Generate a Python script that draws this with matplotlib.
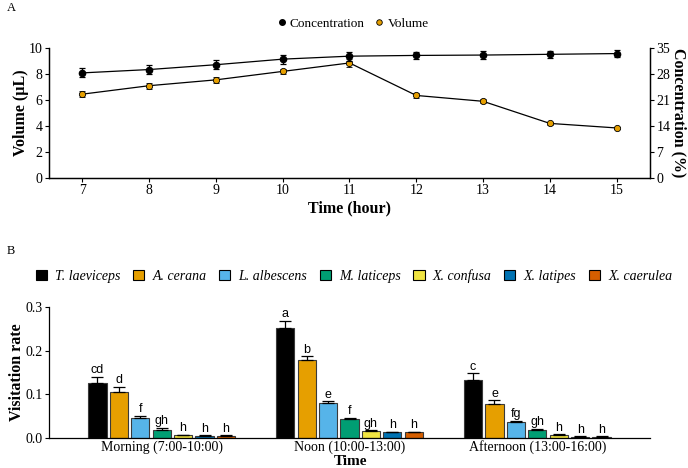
import numpy as np
import matplotlib
matplotlib.use('Agg')
import matplotlib.pyplot as plt
from matplotlib.lines import Line2D
from matplotlib.patches import Patch

plt.rcParams['font.family'] = ['Liberation Serif', 'DejaVu Serif']

# panel A data
hours = [7, 8, 9, 10, 11, 12, 13, 14, 15]
volume = [6.45, 7.1, 7.55, 8.2, 8.85, 6.35, 5.9, 4.2, 3.85]
volume_err = [0.25, 0.22, 0.25, 0.22, 0.3, 0.2, 0.15, 0.1, 0.1]
concentration = [28.3, 29.2, 30.5, 32.0, 32.8, 33.0, 33.1, 33.3, 33.5]
concentration_err = [1.2, 1.2, 1.2, 1.2, 1.2, 1.0, 1.0, 1.0, 1.0]

# panel B data
periods = ['Morning (7:00-10:00)', 'Noon (10:00-13:00)', 'Afternoon (13:00-16:00)']
species = ['T. laeviceps', 'A. cerana', 'L. albescens', 'M. laticeps',
           'X. confusa', 'X. latipes', 'X. caerulea']
colors = ['#000000', '#E69F00', '#56B4E9', '#009E73', '#F0E442', '#0072B2', '#D55E00']
rates = [
    [0.127, 0.252, 0.133],
    [0.106, 0.178, 0.078],
    [0.046, 0.080, 0.036],
    [0.018, 0.043, 0.018],
    [0.007, 0.016, 0.0075],
    [0.005, 0.013, 0.003],
    [0.005, 0.013, 0.003],
]
rate_err = [
    [0.013, 0.017, 0.015],
    [0.011, 0.009, 0.008],
    [0.005, 0.004, 0.004],
    [0.006, 0.003, 0.003],
    [0.001, 0.002, 0.001],
    [0.001, 0.001, 0.001],
    [0.001, 0.001, 0.001],
]
letters = [
    ['cd', 'a', 'c'],
    ['d', 'b', 'e'],
    ['f', 'e', 'fg'],
    ['gh', 'f', 'gh'],
    ['h', 'gh', 'h'],
    ['h', 'h', 'h'],
    ['h', 'h', 'h'],
]

fig = plt.figure(figsize=(6.88, 4.68), dpi=100)

# ---- panel A
ax1 = fig.add_axes([49/688, 1-178/468, 601/688, 130/468])
ax2 = ax1.twinx()

ax1.errorbar(hours, volume, yerr=volume_err, color='black', lw=0.9,
             marker='o', ms=4.5, mfc='#E69F00', mec='black', mew=0.6,
             capsize=2, elinewidth=0.9, capthick=0.9, zorder=3)
ax2.errorbar(hours, concentration, yerr=concentration_err, color='black', lw=0.9,
             marker='o', ms=4.5, mfc='black', mec='black',
             capsize=2, elinewidth=0.9, capthick=0.9, zorder=3)

ax1.set_xlim(6.5, 15.5)
ax1.set_ylim(0, 10)
ax2.set_ylim(0, 35)
ax1.set_xticks(hours)
ax1.set_yticks([0, 2, 4, 6, 8, 10])
ax2.set_yticks([0, 7, 14, 21, 28, 35])
for a in (ax1, ax2):
    a.spines['top'].set_visible(False)
    a.tick_params(labelsize=10, length=3, width=0.8, pad=1.5)
    for s in a.spines.values():
        s.set_linewidth(0.9)
ax1.set_xlabel('Time (hour)', fontsize=11.5, fontweight='bold', labelpad=2)
ax1.set_ylabel('Volume (\u00b5L)', fontsize=11.5, fontweight='bold', labelpad=0)
ax2.set_ylabel('Concentration (%)', fontsize=11.5, fontweight='bold', rotation=270, labelpad=12)

handles_a = [Line2D([], [], ls='none', marker='o', ms=4, mfc='black', mec='black'),
             Line2D([], [], ls='none', marker='o', ms=4, mfc='#E69F00', mec='black', mew=0.6)]
fig.legend(handles_a, ['Concentration', 'Volume'], loc='center', ncol=2,
           bbox_to_anchor=(352/688, 1-24/468), frameon=False, fontsize=9.5,
           handletextpad=0.1, columnspacing=0.6, handlelength=1.0)

fig.text(7/688, 1-8/468, 'A', fontsize=9, va='center', ha='left')
fig.text(7/688, 1-251/468, 'B', fontsize=9, va='center', ha='left')

# ---- panel B
ax3 = fig.add_axes([49/688, 1-438/468, 601/688, 131/468])
x = np.arange(len(periods))
step = 0.114
width = 0.097
for i, sp in enumerate(species):
    pos = x + (i - 3) * step
    ax3.bar(pos, rates[i], width=width, color=colors[i], edgecolor='#3a3a3a',
            linewidth=0.8, zorder=2)
    ax3.errorbar(pos, rates[i], yerr=[np.zeros(3), rate_err[i]], fmt='none',
                 ecolor='black', elinewidth=0.9, capsize=4, capthick=0.9, zorder=3)
    for j in range(3):
        ax3.text(pos[j], rates[i][j] + rate_err[i][j] + 0.001, letters[i][j],
                 ha='center', va='bottom', fontsize=9, family='Liberation Sans')

ax3.set_xlim(-0.6, 2.6)
ax3.set_ylim(0, 0.3)
ax3.set_yticks([0.0, 0.1, 0.2, 0.3])
ax3.set_yticklabels(['0.0', '0.1', '0.2', '0.3'])
ax3.set_xticks(x)
ax3.set_xticklabels(periods)
ax3.spines['top'].set_visible(False)
ax3.spines['right'].set_visible(False)
for s in ax3.spines.values():
    s.set_linewidth(0.9)
ax3.tick_params(axis='y', labelsize=10, length=3, width=0.8, pad=1.5)
ax3.tick_params(axis='x', labelsize=10, length=0, pad=1.8)
ax3.set_ylabel('Visitation rate', fontsize=11.5, fontweight='bold', labelpad=0)
fig.text(350/688, 0.3/468, 'Time', fontsize=11, fontweight='bold',
         ha='center', va='bottom')

handles_b = [Patch(facecolor=c, edgecolor='black', linewidth=0.8) for c in colors]
fig.legend(handles_b, species, loc='center', ncol=7,
           bbox_to_anchor=(354/688, 1-276/468), frameon=False,
           prop={'family': 'Liberation Serif', 'style': 'italic', 'size': 10},
           handlelength=0.8, handleheight=0.8, handletextpad=0.6, columnspacing=0.9)

fig.savefig('out.png', dpi=100)
